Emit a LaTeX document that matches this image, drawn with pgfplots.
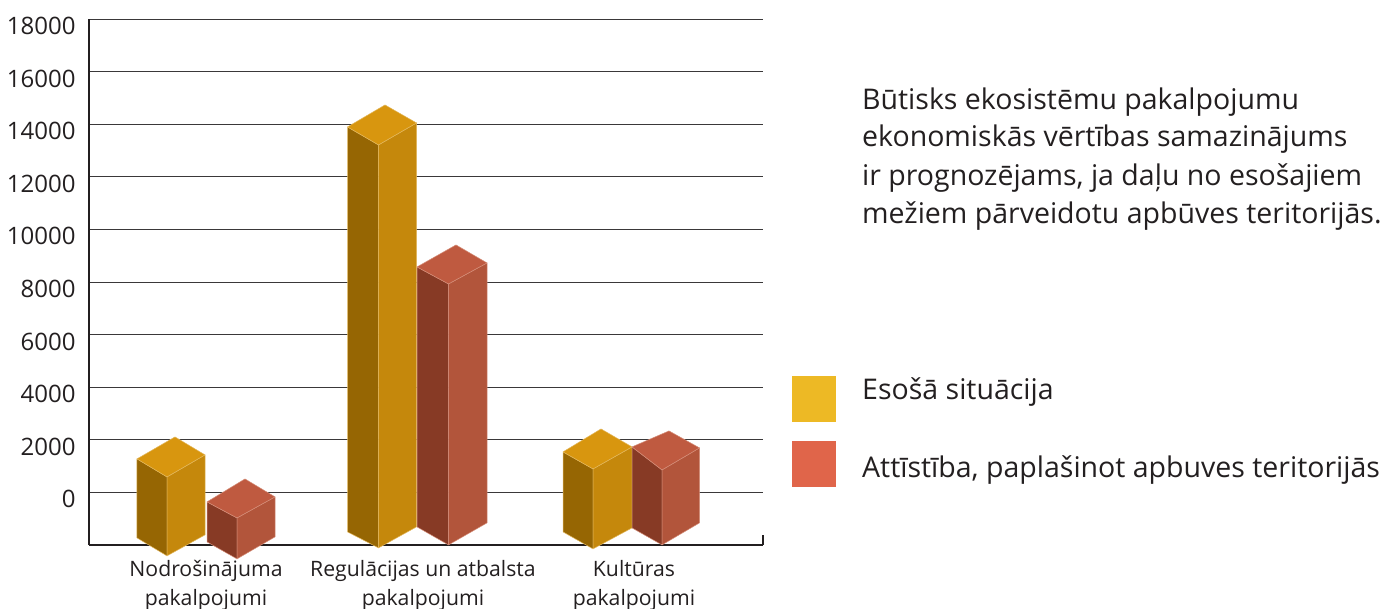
\documentclass[border=0pt]{standalone}
\usepackage{fontspec}
\setmainfont{Open Sans}
\usepackage{pgfplots}
\pgfplotsset{compat=1.18}
\definecolor{ink}{HTML}{231F20}
\definecolor{gridc}{HTML}{3A3839}
\definecolor{gt}{HTML}{D8960F}
\definecolor{gl}{HTML}{966603}
\definecolor{gr}{HTML}{C5880C}
\definecolor{ge}{HTML}{E3B85F}
\definecolor{rt}{HTML}{BF5A40}
\definecolor{rl}{HTML}{873A25}
\definecolor{rr}{HTML}{B2553B}
\definecolor{re}{HTML}{D58F7A}
\definecolor{lg}{HTML}{EDB925}
\definecolor{lr}{HTML}{E0654A}
\newcommand{\ticksz}{\fontsize{24.1}{25}\selectfont}
\newcommand{\catsz}{\fontsize{21.3}{29}\selectfont}
\newcommand{\txtsz}{\fontsize{28.6}{37}\selectfont}
\pgfplotsset{
  gface/.style={fill=#1,draw=ge,line width=0.5bp,line join=round,forget plot},
  rface/.style={fill=#1,draw=re,line width=0.5bp,line join=round,forget plot},
}
\begin{document}
\begin{tikzpicture}[x=1bp,y=1bp]
\path[use as bounding box] (-88bp,-64bp) rectangle (1298bp,545bp);
\begin{axis}[
  at={(1bp,0)},anchor=south west,
  scale only axis,width=674bp,height=526bp,
  xmin=89,xmax=763,ymin=-2000,ymax=18000,
  clip=false,
  axis x line=bottom,axis y line=left,
  axis line style={draw=ink,line width=2.2bp,-},
  ytick={0,2000,4000,6000,8000,10000,12000,14000,16000,18000},
  xtick={206,423,634},
  xticklabels={Nodrošinājuma\\pakalpojumi,Regulācijas un atbalsta\\pakalpojumi,Kultūras\\pakalpojumi},
  major tick length=0pt,
  ymajorgrids,
  major grid style={draw=gridc,line width=0.9bp},
  /pgf/number format/assume math mode=true,
  /pgf/number format/1000 sep={},
  scaled y ticks=false,
  yticklabel style={font=\ticksz,text=ink,yshift=-7bp,xshift=-10bp,anchor=east},
  xticklabel style={font=\catsz,text=ink,align=center,anchor=north,yshift=-12bp},
]
% closing tick at the right end of the axis
\addplot[draw=ink,line width=2.2bp,forget plot] coordinates {(763,-2000) (763,-1620)};

% Nodrosinajuma - esosa
\addplot[gface=gl] coordinates {(137,1274) (167,589) (167,-2414) (137,-1730)} -- cycle;
\addplot[gface=gr] coordinates {(167,589) (205,1426) (205,-1616) (167,-2414)} -- cycle;
\addplot[gface=gt] coordinates {(137,1274) (175,2110) (205,1426) (167,589)} -- cycle;
% Nodrosinajuma - attistiba
\addplot[rface=rl] coordinates {(207,-361) (237,-970) (237,-2528) (207,-1882)} -- cycle;
\addplot[rface=rr] coordinates {(237,-970) (275,-171) (275,-1692) (237,-2528)} -- cycle;
\addplot[rface=rt] coordinates {(207,-361) (245,513) (275,-171) (237,-970)} -- cycle;

% Regulacijas - esosa
\addplot[gface=gl] coordinates {(347.5,13896) (378.5,13212) (378.5,-2110) (347.5,-1502)} -- cycle;
\addplot[gface=gr] coordinates {(378.5,13212) (416.5,14048) (416.5,-1312) (378.5,-2110)} -- cycle;
\addplot[gface=gt] coordinates {(347.5,13896) (385,14733) (416.5,14048) (378.5,13212)} -- cycle;
% Regulacijas - attistiba
\addplot[rface=rl] coordinates {(417,8573) (448.5,7927) (448.5,-1996) (417,-1312)} -- cycle;
\addplot[rface=rr] coordinates {(448.5,7927) (487,8725) (487,-1160) (448.5,-1996)} -- cycle;
\addplot[rface=rt] coordinates {(417,8573) (456,9410) (487,8725) (448.5,7927)} -- cycle;

% Kulturas - esosa
\addplot[gface=gl] coordinates {(563,1540) (593,893) (593,-2148) (563,-1502)} -- cycle;
\addplot[gface=gr] coordinates {(593,893) (632,1730) (632,-1350) (593,-2148)} -- cycle;
\addplot[gface=gt] coordinates {(563,1540) (601,2414) (632,1730) (593,893)} -- cycle;
% Kulturas - attistiba
\addplot[rface=rl] coordinates {(632,1730) (662,855) (662,-1996) (632,-1350)} -- cycle;
\addplot[rface=rr] coordinates {(662,855) (699.5,1692) (699.5,-1160) (662,-1996)} -- cycle;
\addplot[rface=rt] coordinates {(632,1730) (669,2338) (699.5,1692) (662,855)} -- cycle;

% legend swatches
\addplot[fill=lg,draw=none,forget plot] coordinates {(792,4429) (836,4429) (836,2680) (792,2680)} -- cycle;
\addplot[fill=lr,draw=none,forget plot] coordinates {(792,1958) (836,1958) (836,209) (792,209)} -- cycle;

% texts
\node[anchor=base west,inner sep=0pt,font=\txtsz,text=ink] at (axis cs:862,14543) {Būtisks ekosistēmu pakalpojumu};
\node[anchor=base west,inner sep=0pt,font=\txtsz,text=ink] at (axis cs:862,13136) {ekonomiskās vērtības samazinājums};
\node[anchor=base west,inner sep=0pt,font=\txtsz,text=ink] at (axis cs:862,11671) {ir prognozējams, ja daļu no esošajiem};
\node[anchor=base west,inner sep=0pt,font=\txtsz,text=ink] at (axis cs:862,10226) {mežiem pārveidotu apbūves teritorijās.};
\node[anchor=base west,inner sep=0pt,font=\txtsz,text=ink] at (axis cs:862,3517) {Esošā situācija};
\node[anchor=base west,inner sep=0pt,font=\txtsz,text=ink] at (axis cs:862,551) {Attīstība, paplašinot apbuves teritorijās};
\end{axis}
\end{tikzpicture}
\end{document}
